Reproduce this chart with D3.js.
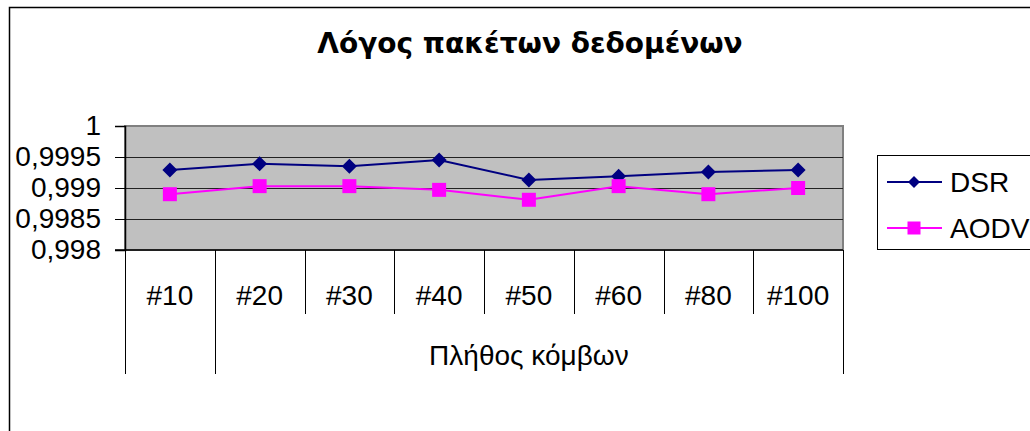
<!DOCTYPE html>
<html>
<head>
<meta charset="utf-8">
<script src="https://cdn.jsdelivr.net/npm/d3@7"></script>
<style>
  body { margin: 0; background: #fff; }
  svg { display: block; font-family: Arial, "Liberation Sans", sans-serif; }
</style>
</head>
<body>
<svg id="chart" width="1030" height="431"></svg>
<script>
const categories = ['#10', '#20', '#30', '#40', '#50', '#60', '#80', '#100'];
const dsrValues = [0.99929, 0.99939, 0.99935, 0.99945, 0.99913, 0.99919, 0.99926, 0.99929];
const aodvValues = [0.99890, 0.99903, 0.99903, 0.99897, 0.99881, 0.99903, 0.99890, 0.99900];
const yTicks = [0.998, 0.9985, 0.999, 0.9995, 1];
const groups = [
  { label: '', first: '#10', last: '#10' },
  { label: 'Πλήθος κόμβων', first: '#20', last: '#100' }
];
const title = 'Λόγος πακέτων δεδομένων';

(function () {
  const plot = { left: 125, right: 843, top: 126, bottom: 250 };
  const svg = d3.select('#chart');

  const series = [
    { name: 'DSR', values: dsrValues, color: '#000080', marker: 'diamond' },
    { name: 'AODV', values: aodvValues, color: '#FF00FF', marker: 'square' }
  ];

  // chart area border (cropped on right/bottom)
  svg.append('rect')
    .attr('x', 9.5).attr('y', 7.5)
    .attr('width', 1100).attr('height', 600)
    .attr('fill', '#fff')
    .attr('stroke', '#000').attr('stroke-width', 1.5);

  svg.append('text')
    .attr('x', 530).attr('y', 53)
    .attr('text-anchor', 'middle')
    .attr('font-family', '"DejaVu Sans", Verdana, sans-serif')
    .attr('font-size', 28).attr('font-weight', 'bold')
    .text(title);

  const x = d3.scaleBand().domain(categories).range([plot.left, plot.right]);
  const y = d3.scaleLinear().domain([0.998, 1]).range([plot.bottom, plot.top]);

  // plot background
  svg.append('rect')
    .attr('x', plot.left).attr('y', plot.top)
    .attr('width', plot.right - plot.left).attr('height', plot.bottom - plot.top)
    .attr('fill', '#C0C0C0')
    .attr('stroke', '#808080').attr('stroke-width', 2);

  // gridlines
  svg.append('g').selectAll('line')
    .data(yTicks.slice(1, -1))
    .join('line')
    .attr('x1', plot.left).attr('x2', plot.right)
    .attr('y1', d => Math.round(y(d)) + 0.5).attr('y2', d => Math.round(y(d)) + 0.5)
    .attr('stroke', '#222').attr('stroke-width', 1);

  // y axis
  const yAxis = d3.axisLeft(y)
    .tickValues(yTicks)
    .tickSize(10)
    .tickPadding(14)
    .tickFormat(d => d === 1 ? '1' : String(d).replace('.', ','));
  const yg = svg.append('g')
    .attr('transform', `translate(${plot.left},0)`)
    .call(yAxis);
  yg.select('.domain').attr('stroke', '#000').attr('stroke-width', 1.5);
  yg.selectAll('.tick line').attr('stroke', '#000');
  yg.selectAll('.tick text')
    .attr('font-size', 28).attr('fill', '#000')
    .attr('font-family', 'Arial, "Liberation Sans", sans-serif');

  // x axis line
  svg.append('line')
    .attr('x1', plot.left - 10).attr('x2', plot.right)
    .attr('y1', plot.bottom).attr('y2', plot.bottom)
    .attr('stroke', '#000').attr('stroke-width', 1.5);

  // category boundaries
  const groupEdges = new Set();
  groups.forEach(g => {
    groupEdges.add(x(g.first));
    groupEdges.add(x(g.last) + x.bandwidth());
  });
  const edges = categories.map(c => x(c)).concat([x(categories[categories.length - 1]) + x.bandwidth()]);
  svg.append('g').selectAll('line')
    .data(edges)
    .join('line')
    .attr('x1', d => Math.round(d) + 0.5).attr('x2', d => Math.round(d) + 0.5)
    .attr('y1', plot.bottom)
    .attr('y2', d => groupEdges.has(d) ? 374 : 314)
    .attr('stroke', '#000').attr('stroke-width', 1);

  svg.append('g').selectAll('text')
    .data(categories)
    .join('text')
    .attr('x', d => x(d) + x.bandwidth() / 2)
    .attr('y', 305)
    .attr('text-anchor', 'middle')
    .attr('font-size', 28)
    .text(d => d);

  svg.append('g').selectAll('text')
    .data(groups)
    .join('text')
    .attr('x', d => (x(d.first) + x(d.last) + x.bandwidth()) / 2)
    .attr('y', 365)
    .attr('text-anchor', 'middle')
    .attr('font-size', 28)
    .text(d => d.label);

  // series
  const line = d3.line()
    .x((d, i) => x(categories[i]) + x.bandwidth() / 2)
    .y(d => y(d));

  function marker(sel, type, size, color) {
    if (type === 'diamond') {
      sel.append('path')
        .attr('d', `M0,${-size / 2}L${size / 2},0L0,${size / 2}L${-size / 2},0Z`)
        .attr('fill', color);
    } else {
      sel.append('rect')
        .attr('x', -size / 2).attr('y', -size / 2)
        .attr('width', size).attr('height', size)
        .attr('fill', color);
    }
  }

  series.forEach(s => {
    svg.append('path')
      .datum(s.values)
      .attr('d', line)
      .attr('fill', 'none')
      .attr('stroke', s.color)
      .attr('stroke-width', 2);
    svg.append('g').selectAll('g')
      .data(s.values)
      .join('g')
      .attr('transform', (d, i) => `translate(${x(categories[i]) + x.bandwidth() / 2},${y(d)})`)
      .each(function () { marker(d3.select(this), s.marker, s.marker === 'diamond' ? 15 : 14, s.color); });
  });

  // legend
  const legend = svg.append('g');
  legend.append('rect')
    .attr('x', 877.5).attr('y', 155.5)
    .attr('width', 300).attr('height', 94)
    .attr('fill', '#fff')
    .attr('stroke', '#000').attr('stroke-width', 1);
  series.forEach((s, i) => {
    const ly = 182 + i * 46;
    legend.append('line')
      .attr('x1', 887).attr('x2', 942)
      .attr('y1', ly).attr('y2', ly)
      .attr('stroke', s.color).attr('stroke-width', 2);
    const m = legend.append('g').attr('transform', `translate(914,${ly})`);
    marker(m, s.marker, s.marker === 'diamond' ? 12 : 13, s.color);
    legend.append('text')
      .attr('x', 950).attr('y', ly + 10)
      .attr('font-size', 28)
      .text(s.name);
  });
})();
</script>
</body>
</html>
